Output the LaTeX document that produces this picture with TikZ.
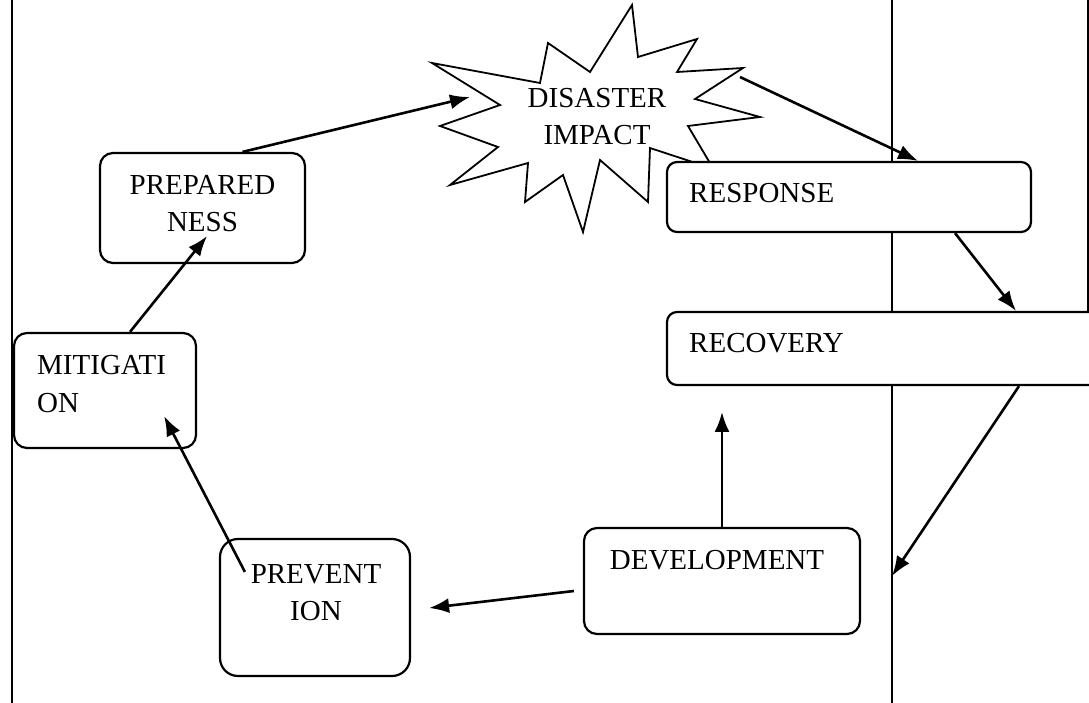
\documentclass[tikz,border=0pt]{standalone}
\usepackage{fontspec}
\setmainfont{Liberation Serif}
\usetikzlibrary{arrows.meta}
\usetikzlibrary{calc}

\tikzset{
    box/.style={draw, line width=2.2pt, rounded corners=13pt, fill=white, inner sep=0pt},
    txt/.style={font=\fontsize{29}{37.5}\selectfont, inner sep=0pt},
    arr/.style={line width=2.6pt, -{Latex[length=20pt,width=15pt]}},
    frame/.style={line width=1.6pt}
}

\begin{document}
\begin{tikzpicture}[x=1pt,y=-1pt]
    \useasboundingbox (0,0) rectangle (1089,703);
    \clip (0,0) rectangle (1089,703);

    %% frame lines
    \draw[frame] (12,0) -- (12,703);
    \draw[frame] (892,0) -- (892,703);
    \draw[frame] (1088,0) -- (1088,312);

    %% disaster star
    \draw[line width=1.8pt, fill=white] (432,63) -- (540,83) -- (548,43) -- (590,72)
        -- (632,5) -- (638,57) -- (697,39) -- (677,72) -- (743,68) -- (695,99)
        -- (760,117) -- (688,126) -- (720,180) -- (720,171) -- (650,148)
        -- (648,202) -- (600,160) -- (583,232) -- (563,175) -- (525,202)
        -- (528,163) -- (450,185) -- (498,147) -- (440,126) -- (500,105) -- cycle;
    \node[txt, align=center] (dis) at (597,116.5) {DISASTER\\IMPACT};

    %% boxes
    \node[box, minimum width=205pt, minimum height=110pt] (prep) at (202.5,208) {};
    \node[box, minimum width=182pt, minimum height=115pt] (mit) at (105,390.5) {};
    \node[box, minimum width=190pt, minimum height=137pt, rounded corners=18pt] (prev) at (315,607.5) {};
    \node[box, minimum width=276pt, minimum height=106pt] (dev) at (722,581) {};
    \node[box, minimum width=364pt, minimum height=70pt, rounded corners=10pt] (resp) at (849,197) {};
    \node[box, minimum width=443pt, minimum height=73pt, rounded corners=10pt] (rec) at (888.5,348.5) {};

    %% texts
    \node[txt, align=center] (preptxt) at (202.5,203.5) {PREPARED\\NESS};
    \node[txt, align=left, anchor=west] (mittxt) at (37,384) {MITIGATI\\ON};
    \node[txt, align=center] (prevtxt) at (316,592.5) {PREVENT\\ION};
    \node[txt] (devtxt) at (717,560) {DEVELOPMENT};
    \node[txt, anchor=west] (resptxt) at (689,193) {RESPONSE};
    \node[txt, anchor=west] (rectxt) at (689,343) {RECOVERY};

    %% free ends
    \coordinate (disw) at (470,97);
    \coordinate (dise) at (740,77);
    \coordinate (hit) at (892,576);

    %% arrows
    \draw[arr] ($(prep.north)+(40,0)$) -- (disw);
    \draw[arr] (dise) -- ($(resp.north)+(69,0)$);
    \draw[arr] ($(resp.south)+(106,0)$) -- ($(rec.north)+(127.5,0)$);
    \draw[arr] ($(rec.south)+(130.5,0)$) -- (hit);
    \draw[arr] (dev.north) -- ($(dev.north)+(0,-115)$);
    \draw[arr] ($(dev.west)+(-9,10)$) -- ($(prev.east)+(18,0.5)$);
    \draw[arr] ($(prev.north west)+(26,34)$) -- ($(mit.south east)+(-33,-33)$);
    \draw[arr] ($(mit.north)+(25,0)$) -- ($(prep.south)+(4.5,-28)$);
\end{tikzpicture}
\end{document}
